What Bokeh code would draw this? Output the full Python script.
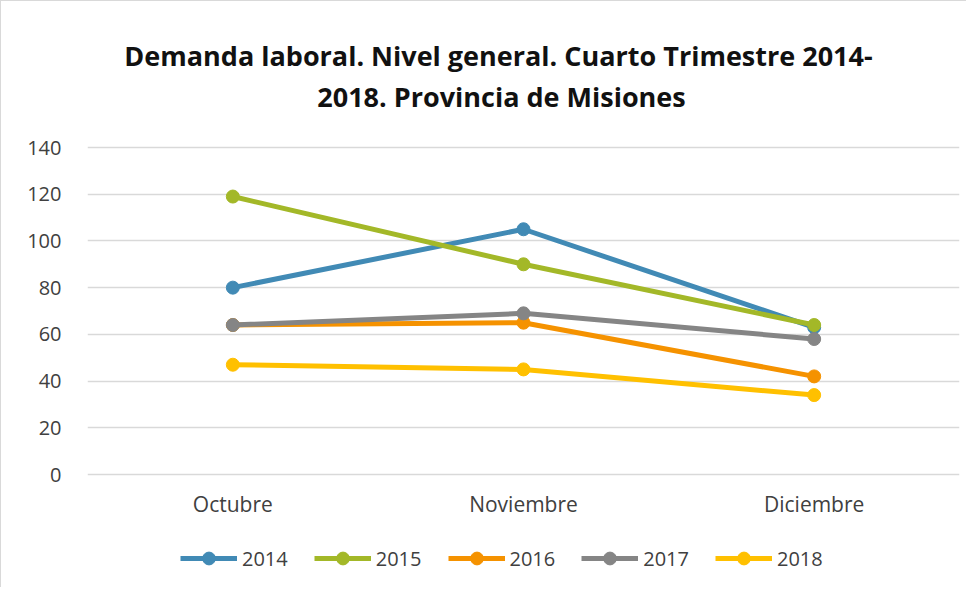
from bokeh.plotting import figure
from bokeh.models import Legend, LegendItem, FixedTicker, Range1d, Label
from bokeh.core.properties import value
from bokeh.embed import file_html
from bokeh.resources import INLINE

months = ["Octubre", "Noviembre", "Diciembre"]
years = ["2014", "2015", "2016", "2017", "2018"]
v2014 = [80, 105, 63]
v2015 = [119, 90, 64]
v2016 = [64, 65, 42]
v2017 = [64, 69, 58]
v2018 = [47, 45, 34]
series = [v2014, v2015, v2016, v2017, v2018]
colors = ["#418ab5", "#a3b828", "#f59200", "#858585", "#ffc000"]
y_ticks = [0, 20, 40, 60, 80, 100, 120, 140]
title_lines = ["Demanda laboral. Nivel general. Cuarto Trimestre 2014-",
               "2018. Provincia de Misiones"]

FONT = "Open Sans"
W, H = 966, 587
LEFT, RIGHT = 86, 8
Y0_PX, Y140_PX = 473, 146          # pixel rows of 0 and 140
ppu = (Y0_PX - Y140_PX) / 140.0

p = figure(x_range=months, width=W, height=H, x_axis_location=None,
           output_backend="svg", toolbar_location=None,
           min_border_left=LEFT, min_border_right=RIGHT,
           min_border_top=0, min_border_bottom=0)
p.y_range = Range1d(-(H - Y0_PX) / ppu, 140 + Y140_PX / ppu)
p.outline_line_color = None
p.background_fill_color = "white"
p.border_fill_color = "white"
p.styles = {"border-left": "1px solid #d9d9d9", "border-top": "1px solid #d9d9d9"}

p.xgrid.grid_line_color = None
p.ygrid.grid_line_color = "#d9d9d9"
p.ygrid.grid_line_width = 1.5
p.ygrid.ticker = FixedTicker(ticks=y_ticks)
p.yaxis.ticker = FixedTicker(ticks=y_ticks)
p.yaxis.axis_line_color = None
p.yaxis.major_tick_line_color = None
p.yaxis.minor_tick_line_color = None
p.yaxis.major_label_standoff = 20
p.yaxis.major_label_text_font = FONT
p.yaxis.major_label_text_font_size = "20px"
p.yaxis.major_label_text_color = "#404040"

# category labels under the zero line
p.text(x=months, y=[y_ticks[0]] * len(months), text=months, y_offset=29,
       text_font=value(FONT), text_font_size="21px", text_color="#404040",
       text_align="center", text_baseline="middle")

# title
for line, cx, cy in zip(title_lines, [497, 500], [54, 95]):
    p.add_layout(Label(x=cx - LEFT, y=H - cy, x_units="screen", y_units="screen",
                       text=line, text_font=FONT, text_font_style="bold",
                       text_font_size="27px", text_color="#111111",
                       text_align="center", text_baseline="middle"))

items = []
for yr, vals, c in zip(years, series, colors):
    r1 = p.line(months, vals, line_color=c, line_width=5)
    r2 = p.scatter(months, vals, size=13, fill_color=c, line_color=c)
    items.append(LegendItem(label=yr, renderers=[r1, r2]))

legend = Legend(items=items, orientation="horizontal", location=(179 - LEFT, H - 573),
                label_text_font=FONT, label_text_font_size="20px",
                label_text_color="#404040", glyph_width=57, glyph_height=32,
                label_height=32, spacing=26, label_standoff=5,
                border_line_color=None, background_fill_alpha=0,
                padding=0, margin=0)
p.add_layout(legend, "center")

open("out.html", "w").write(file_html(p, INLINE))
